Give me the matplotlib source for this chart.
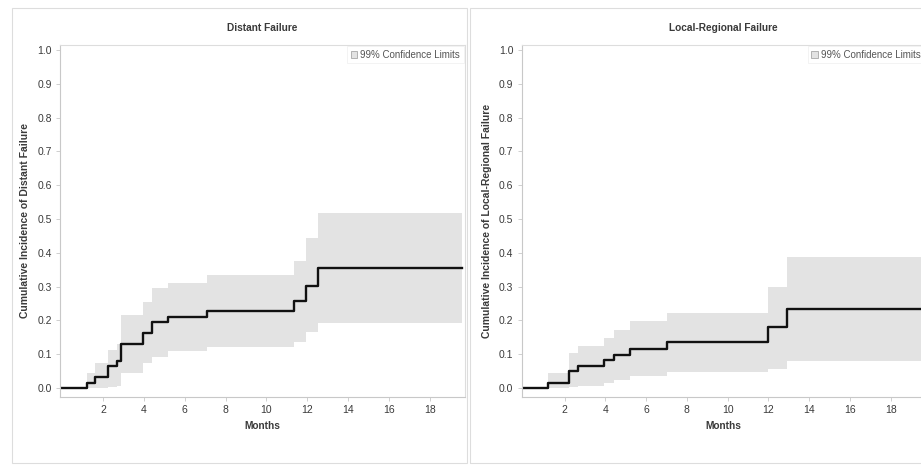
import matplotlib
matplotlib.use("Agg")
import matplotlib.pyplot as plt
from matplotlib.patches import Patch, Rectangle

plt.rcParams['font.family'] = ['Liberation Sans', 'DejaVu Sans']

# Distant failure: cumulative incidence with 99% limits (step after each time)
dist_t = [0, 1.2, 1.6, 2.27, 2.7, 2.87, 3.95, 4.39, 5.2, 7.08, 11.35, 11.94, 12.54, 19.55]
dist_cif = [0, 0.016, 0.032, 0.065, 0.079, 0.13, 0.162, 0.195, 0.211, 0.228, 0.258, 0.302, 0.355, 0.355]
dist_lo = [0, 0, 0, 0.003, 0.005, 0.045, 0.073, 0.093, 0.11, 0.122, 0.136, 0.166, 0.191, 0.191]
dist_hi = [0, 0.044, 0.073, 0.112, 0.13, 0.216, 0.255, 0.295, 0.312, 0.333, 0.377, 0.443, 0.517, 0.517]

# Local-regional failure
loc_t = [0, 1.18, 2.21, 2.65, 3.96, 4.42, 5.19, 7.02, 11.98, 12.92, 19.55]
loc_cif = [0, 0.015, 0.049, 0.064, 0.082, 0.099, 0.116, 0.135, 0.18, 0.234, 0.234]
loc_lo = [0, 0, 0.002, 0.005, 0.015, 0.025, 0.035, 0.046, 0.055, 0.08, 0.08]
loc_hi = [0, 0.044, 0.104, 0.123, 0.148, 0.173, 0.197, 0.222, 0.299, 0.387, 0.387]

x_ticks = [2, 4, 6, 8, 10, 12, 14, 16, 18]
y_ticks = [0.0, 0.1, 0.2, 0.3, 0.4, 0.5, 0.6, 0.7, 0.8, 0.9, 1.0]

txt = '#3a3a3a'
band = '#e3e3e3'
frame = '#c8c8c8'

fig = plt.figure(figsize=(9.21, 4.68), dpi=100)

# outer panel borders (fig fraction)
fig.patches.append(Rectangle((12/921, 5/468), 455/921, 455/468, transform=fig.transFigure,
                             fill=False, edgecolor='#dddddd', lw=0.8))
fig.patches.append(Rectangle((470/921, 5/468), 460/921, 455/468, transform=fig.transFigure,
                             fill=False, edgecolor='#dddddd', lw=0.8))

panels = [
    ([60/921, 71/468, 405/921, 352/468], dist_t, dist_cif, dist_lo, dist_hi,
     'Distant Failure', 'Cumulative Incidence of Distant Failure'),
    ([521.7/921, 71/468, 404/921, 352/468], loc_t, loc_cif, loc_lo, loc_hi,
     'Local-Regional Failure', 'Cumulative Incidence of Local-Regional Failure'),
]

for pos, t, cif, lo, hi, title, ylab in panels:
    ax = fig.add_axes(pos)
    ax.fill_between(t, lo, hi, step='post', color=band, lw=0)
    ax.step(t, cif, where='post', color='#111111', lw=1.7)
    ax.set_xlim(-0.1, 19.72)
    ax.set_ylim(-0.0266, 1.0148)
    ax.set_xticks(x_ticks)
    ax.set_yticks(y_ticks)
    ax.set_yticklabels([f'{v:.1f}' for v in y_ticks])
    ax.tick_params(colors=frame, labelcolor=txt, labelsize=7.5, length=3, width=0.6, pad=3)
    for s in ax.spines.values():
        s.set_color('#dddddd')
        s.set_linewidth(0.8)
    ax.spines['left'].set_color(frame)
    ax.spines['bottom'].set_color(frame)
    ax.set_title(title, fontsize=7.3, fontweight='bold', color=txt, pad=10)
    ax.set_xlabel('Months', fontsize=7.3, fontweight='bold', color=txt, labelpad=4)
    ax.set_ylabel(ylab, fontsize=7.5, fontweight='bold', color=txt, labelpad=5)
    leg = ax.legend(handles=[Patch(facecolor=band, edgecolor='#999999', lw=0.5, label='99% Confidence Limits')],
                    loc='upper right', fontsize=7, frameon=True, fancybox=False,
                    handlelength=0.7, handleheight=0.7, handletextpad=0.3,
                    borderpad=0.35, borderaxespad=0.15, labelcolor='#555555')
    leg.get_frame().set_edgecolor('#eeeeee')
    leg.get_frame().set_linewidth(0.6)

fig.savefig('out.png', dpi=100)
